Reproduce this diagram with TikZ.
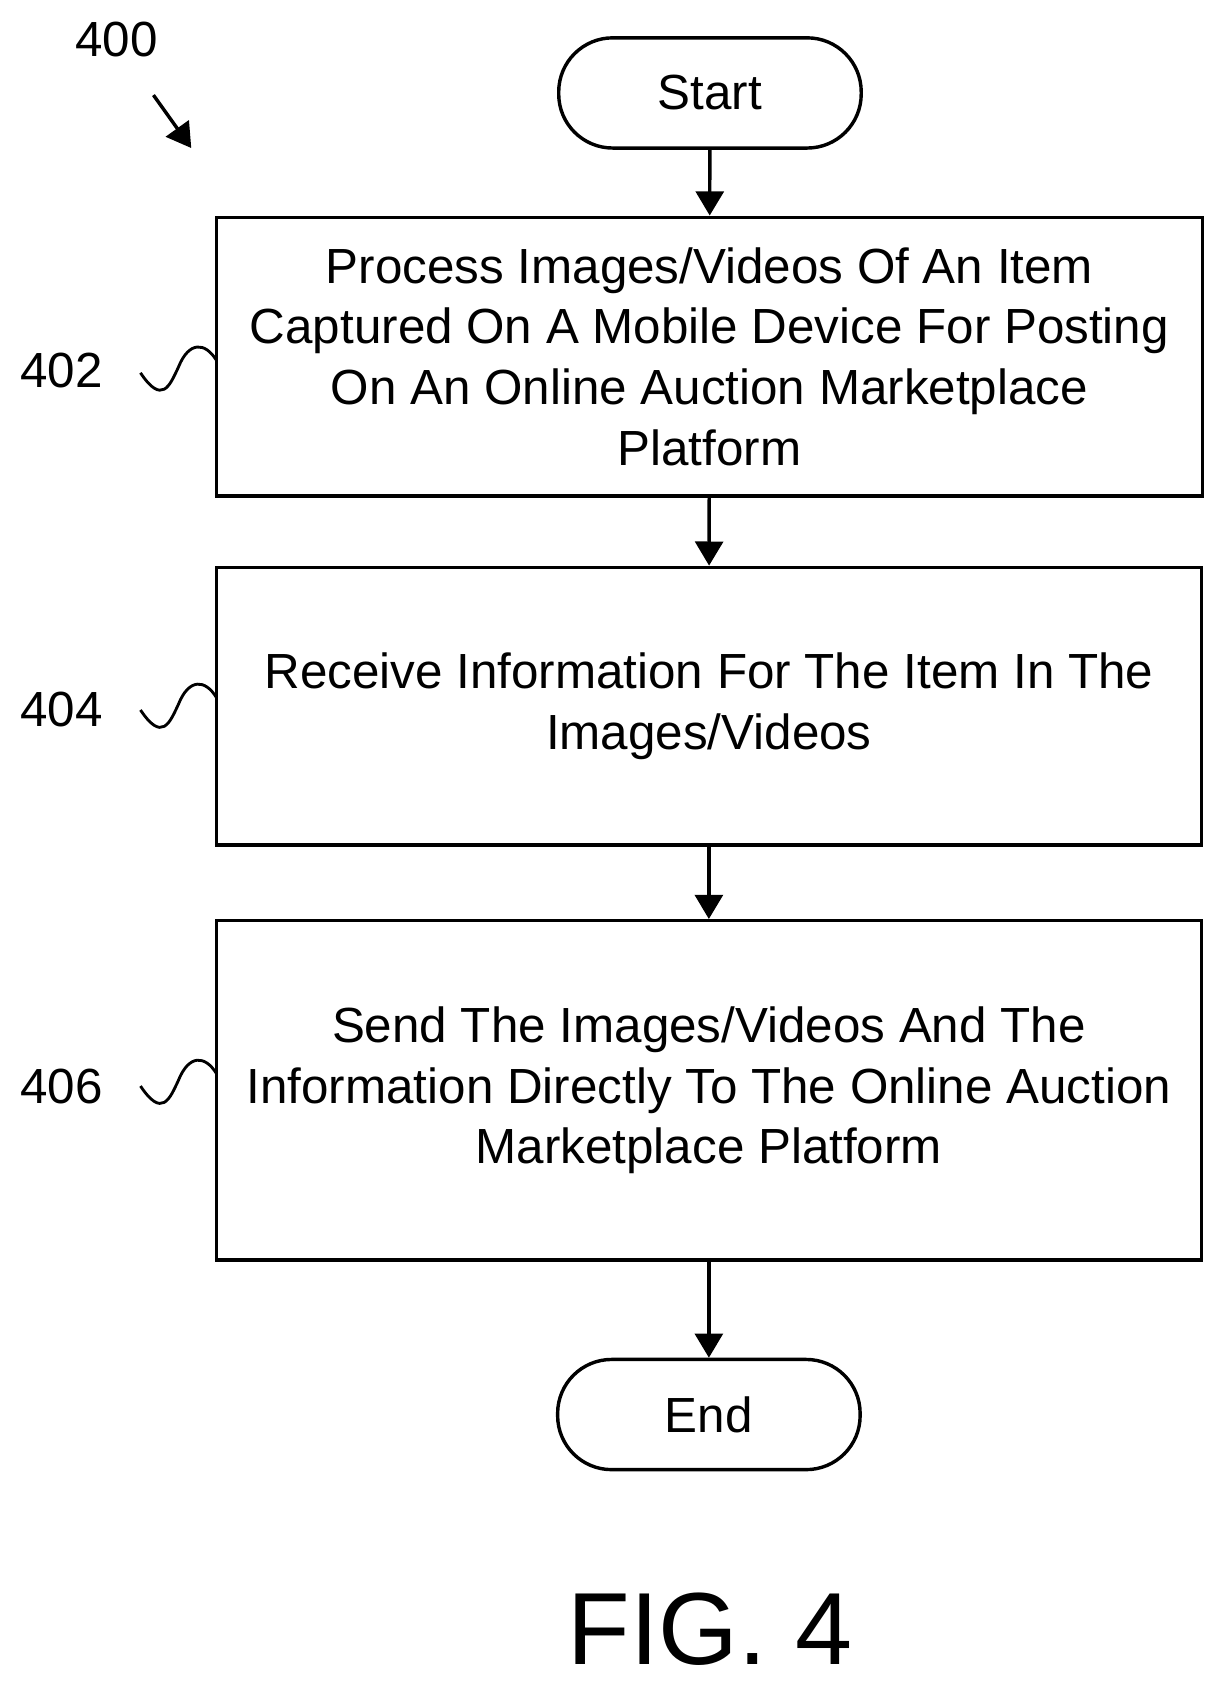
\documentclass[tikz,border=0pt]{standalone}
\usepackage{fontspec}
\setmainfont{Liberation Sans}
\usetikzlibrary{positioning, arrows.meta, calc}

\begin{document}
\begin{tikzpicture}[
    x=0.02cm, y=-0.02cm,
    >={Triangle[scale=1.6]},
    line width=1.8pt,
    stepbox/.style={draw, rectangle, align=center, font=\fontsize{26}{32}\selectfont, inner sep=0pt},
    term/.style={draw, rounded corners=1cm, minimum width=5.6cm, minimum height=2.04cm, font=\fontsize{26}{32}\selectfont},
    ref/.style={font=\fontsize{26}{32}\selectfont}
]
\useasboundingbox (0,0) rectangle (1130,1563);

% start / end
\node[term] (start) at (657,86) {Start};
\node[term] (end) at (656,1309) {End};

% steps
\node[stepbox, minimum width=18.26cm, minimum height=5.16cm] (s402) at (656.5,330) {Process Images/Videos Of An Item\\Captured On A Mobile Device For Posting\\On An Online Auction Marketplace\\Platform};
\node[stepbox, minimum width=18.24cm, minimum height=5.14cm] (s404) at (656,653.5) {Receive Information For The Item In The\\Images/Videos};
\node[stepbox, minimum width=18.24cm, minimum height=6.28cm] (s406) at (656,1009) {Send The Images/Videos And The\\Information Directly To The Online Auction\\Marketplace Platform};

% arrows
\draw[->] (start) -- (s402);
\draw[->] (s402) -- (s404);
\draw[->] (s404) -- (s406);
\draw[->] (s406) -- (end);

% reference labels
\node[ref] (l400) at (108,37) {400};
\node[ref] (l402) at (57,343) {402};
\node[ref] (l404) at (57,657) {404};
\node[ref] (l406) at (57,1005) {406};
\coordinate (a400) at (142,88);
\coordinate (b400) at (177,137);
\draw[->] (a400) -- (b400);
\foreach \n/\y in {402/345, 404/657, 406/1005}{
  \coordinate (w\n) at (200,\y-12);
  \draw[line width=1.5pt] (130,\y) .. controls (150,\y+30) and (157,\y+12) .. (165,\y-5)
    .. controls (175,\y-30) and (190,\y-28) .. (w\n);
}

\node[font=\fontsize{54}{60}\selectfont] (fig) at (657,1508) {FIG. 4};
\end{tikzpicture}
\end{document}
